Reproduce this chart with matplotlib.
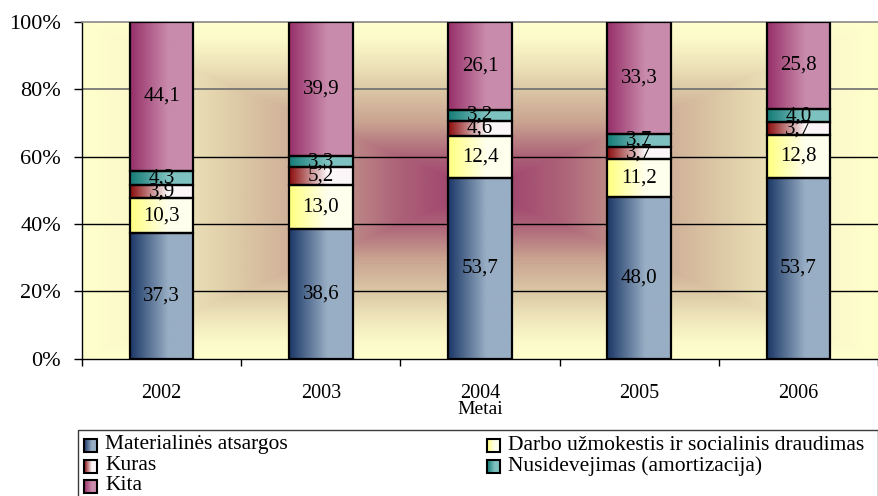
import numpy as np
import matplotlib.pyplot as plt
from matplotlib.colors import to_rgb, LinearSegmentedColormap
from matplotlib.patches import Rectangle

# ===== duomenys (%) =====
years = ["2002", "2003", "2004", "2005", "2006"]
materialines = [37.3, 38.6, 53.7, 48.0, 53.7]
darbo = [10.3, 13.0, 12.4, 11.2, 12.8]
kuras = [3.9, 5.2, 4.6, 3.7, 3.7]
nusidevejimas = [4.3, 3.3, 3.2, 3.7, 4.0]
kita = [44.1, 39.9, 26.1, 33.3, 25.8]

series = [materialines, darbo, kuras, nusidevejimas, kita]
names = ["Materialinės atsargos",
         "Darbo užmokestis ir socialinis draudimas",
         "Kuras",
         "Nusidevejimas (amortizacija)",
         "Kita"]
# kairė (tamsi) -> dešinė (šviesi) spalva kiekvienai serijai
gradients = [("#1c3867", "#98aec4"),
             ("#ffff80", "#ffffee"),
             ("#8a0c0c", "#fbf6f8"),
             ("#167c78", "#7ec2c0"),
             ("#97306a", "#c98bab")]

FONT = "Liberation Serif"
W, H = 879, 496


def hgrad(c0, c1, n=80):
    t = np.clip(np.linspace(0, 1, n) / 0.6, 0, 1)
    a, b = np.array(to_rgb(c0)), np.array(to_rgb(c1))
    return (a[None, :] * (1 - t[:, None]) + b[None, :] * t[:, None])[None, :, :]


fig = plt.figure(figsize=(W / 100, H / 100), dpi=100)
ax = fig.add_axes([82 / W, (H - 358.7) / H, 796 / W, 336.7 / H])

# ===== fonas: stačiakampis gradientas nuo centro =====
yy, xx = np.mgrid[-1:1:300j, -1:1:700j]
tt = np.maximum(np.abs(xx), np.abs(yy))
bg_cmap = LinearSegmentedColormap.from_list(
    "bg", [(0.0, "#9c386a"), (0.2, "#ac6278"), (0.4, "#c9a290"),
           (0.6, "#dcc8a5"), (0.75, "#eee4ba"), (0.9, "#fcf9ca"),
           (1.0, "#ffffcc")])
ax.imshow(tt, cmap=bg_cmap, extent=(-0.5, 4.5, 0, 100), aspect="auto",
          interpolation="bilinear", zorder=0)

# tinklelis
for yv in [20, 40, 60]:
    ax.axhline(yv, color="black", lw=1, zorder=1)
ax.axhline(80, color="#6e6e6e", lw=1.2, zorder=1)

# ===== stulpeliai =====
x = np.arange(len(years))
totals = np.sum(series, axis=0)
bottom = np.zeros(len(years))
for vals, (c0, c1) in zip(series, gradients):
    h = np.array(vals) / totals * 100
    bars = ax.bar(x, h, bottom=bottom, width=0.4, facecolor="none",
                  edgecolor="black", linewidth=1.6, zorder=4)
    img = hgrad(c0, c1)
    for bar, v in zip(bars, vals):
        bx, by = bar.get_x(), bar.get_y()
        bw, bh = bar.get_width(), bar.get_height()
        ax.imshow(img, extent=(bx, bx + bw, by, by + bh), aspect="auto",
                  interpolation="bilinear", zorder=3)
        ax.text(bx + bw / 2, by + bh / 2, f"{v:.1f}".replace(".", ","),
                ha="center", va="center", fontsize=15, family=FONT,
                zorder=5)
    bottom += h

ax.set_xlim(-0.5, 4.5)
ax.set_ylim(0, 100)
ax.set_yticks([0, 20, 40, 60, 80, 100])
ax.set_yticklabels([f"{v}%" for v in range(0, 101, 20)], family=FONT,
                   fontsize=16)
ax.tick_params(axis="y", length=6, width=1, pad=9)
ax.set_xticks(x)
ax.set_xticklabels(years, family=FONT, fontsize=14.5)
ax.set_xticks(np.arange(-0.5, 5, 1), minor=True)
ax.tick_params(axis="x", which="major", length=0, pad=18)
ax.tick_params(axis="x", which="minor", length=5, width=1)
ax.set_xlabel("Metai", family=FONT, fontsize=14, labelpad=-1)

ax.spines["right"].set_visible(False)
ax.spines["top"].set_color("#8a8a8a")
ax.spines["top"].set_linewidth(1.2)
for s in ["left", "bottom"]:
    ax.spines[s].set_color("black")
    ax.spines[s].set_linewidth(1)

# ===== legenda (pikseliais) =====
lax = fig.add_axes([0, 0, 1, 1], zorder=10)
lax.set_axis_off()
lax.patch.set_visible(False)
lax.add_patch(Rectangle((78, 430), 800, 90, fill=False, ec="#3c3c3c", lw=1))
order = [0, 2, 4, 1, 3]
slots = [(84, 445), (84, 466), (84, 486), (487, 445), (487, 466)]
for idx, (mx, my) in zip(order, slots):
    c0, c1 = gradients[idx]
    lax.imshow(hgrad(c0, c1, 20), extent=(mx, mx + 13, my + 6.5, my - 6.5),
               aspect="auto", interpolation="bilinear")
    lax.add_patch(Rectangle((mx, my - 6.5), 13, 13, fill=False, ec="black",
                            lw=1.5))
    lax.text(mx + 21, my, names[idx], va="center", ha="left", family=FONT,
             fontsize=15.5)
lax.set_xlim(0, W)
lax.set_ylim(H, 0)

fig.savefig("out.png", dpi=100)
